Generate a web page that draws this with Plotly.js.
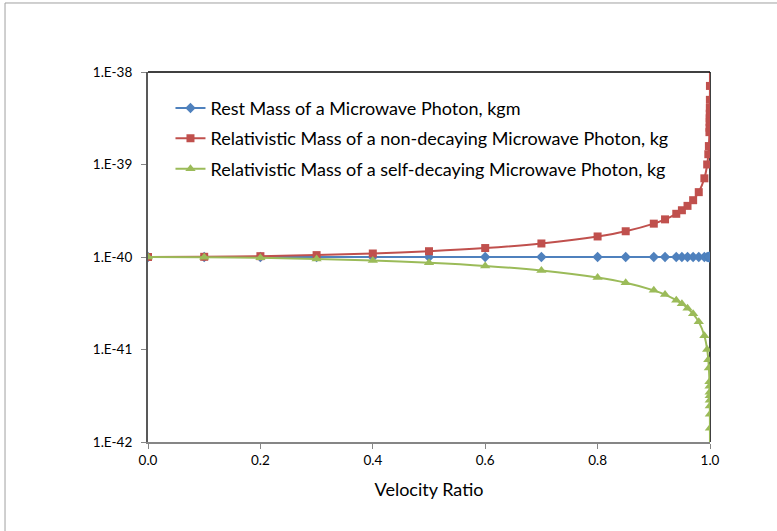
<!DOCTYPE html>
<html>
<head>
<meta charset="utf-8">
<script src="https://cdn.plot.ly/plotly-3.0.1.min.js"></script>
<style>html,body{margin:0;padding:0;background:#fff;}#chart{width:777px;height:531px;}</style>
</head>
<body>
<div id="chart"></div>
<script>
const velocityRatio = [0, 0.1, 0.2, 0.3, 0.4, 0.5, 0.6, 0.7, 0.8, 0.85, 0.9, 0.92, 0.94, 0.95, 0.96, 0.97, 0.98, 0.99, 0.995, 0.997, 0.998, 0.999, 0.9992, 0.9994, 0.9995, 0.9996, 0.9997, 0.9998, 0.9999, 0.99999];
const restMass = [1e-40, 1e-40, 1e-40, 1e-40, 1e-40, 1e-40, 1e-40, 1e-40, 1e-40, 1e-40, 1e-40, 1e-40, 1e-40, 1e-40, 1e-40, 1e-40, 1e-40, 1e-40, 1e-40, 1e-40, 1e-40, 1e-40, 1e-40, 1e-40, 1e-40, 1e-40, 1e-40, 1e-40, 1e-40, 1e-40];
const nonDecayingMass = [1.00e-40, 1.005e-40, 1.021e-40, 1.048e-40, 1.091e-40, 1.155e-40, 1.25e-40, 1.40e-40, 1.667e-40, 1.898e-40, 2.294e-40, 2.552e-40, 2.931e-40, 3.203e-40, 3.571e-40, 4.113e-40, 5.025e-40, 7.089e-40, 1.001e-39, 1.292e-39, 1.582e-39, 2.237e-39, 2.50e-39, 2.89e-39, 3.16e-39, 3.54e-39, 4.08e-39, 5.00e-39, 7.07e-39, 2.24e-38];
const selfDecayingMass = [1.00e-40, 9.95e-41, 9.80e-41, 9.54e-41, 9.17e-41, 8.66e-41, 8.00e-41, 7.14e-41, 6.00e-41, 5.27e-41, 4.36e-41, 3.92e-41, 3.41e-41, 3.12e-41, 2.80e-41, 2.43e-41, 1.99e-41, 1.41e-41, 9.99e-42, 7.74e-42, 6.32e-42, 4.47e-42, 4.00e-42, 3.46e-42, 3.16e-42, 2.83e-42, 2.45e-42, 2.00e-42, 1.41e-42, 4.47e-43];
const seriesNames = ["Rest Mass of a Microwave Photon, kgm", "Relativistic Mass of a non-decaying Microwave Photon, kg", "Relativistic Mass of a self-decaying Microwave Photon, kg"];
const yTickVals = [1e-42, 1e-41, 1e-40, 1e-39, 1e-38];
const yTickText = ["1.E-42", "1.E-41", "1.E-40", "1.E-39", "1.E-38"];
const xTitle = "Velocity Ratio";

const font = "Lato, 'Open Sans', sans-serif";
const traces = [
  {x: velocityRatio, y: restMass, name: seriesNames[0], mode: "lines+markers", legendgroup: "a",
   line: {color: "#4F81BD", width: 2, shape: "spline"}, marker: {symbol: "diamond", size: 8, color: "#4F81BD"}},
  {x: velocityRatio, y: nonDecayingMass, name: seriesNames[1], mode: "lines+markers", legendgroup: "b",
   line: {color: "#C0504D", width: 2, shape: "spline"}, marker: {symbol: "square", size: 8, color: "#C0504D"}},
  {x: velocityRatio, y: selfDecayingMass, name: seriesNames[2], mode: "lines+markers", legendgroup: "c",
   line: {color: "#9BBB59", width: 2, shape: "spline"}, marker: {symbol: "triangle-up", size: 9, color: "#9BBB59"}}
];
const layout = {
  width: 777, height: 531,
  margin: {l: 148, r: 67, t: 72, b: 89},
  paper_bgcolor: "#fff", plot_bgcolor: "#fff",
  font: {family: font, color: "#000"},
  showlegend: true,
  legend: {x: 0.04, y: 0.952, xanchor: "left", yanchor: "top", bgcolor: "rgba(0,0,0,0)",
           font: {size: 18, family: font, color: "#000"}, tracegroupgap: 4, itemwidth: 30},
  xaxis: {range: [0, 1], dtick: 0.2, tick0: 0, tickformat: ".1f", showgrid: false, zeroline: false,
          showline: true, linecolor: "#868686", linewidth: 2, ticks: "outside", ticklen: 5, tickcolor: "#868686",
          tickfont: {size: 13.5, family: font}, title: {text: xTitle, font: {size: 18, family: font}, standoff: 16}},
  yaxis: {type: "log", range: [-42, -38], tickvals: yTickVals, ticktext: yTickText, showgrid: false, zeroline: false,
          showline: true, linecolor: "#595959", linewidth: 2, ticks: "outside", ticklen: 5, tickcolor: "#868686",
          ticklabelstandoff: 6, tickfont: {size: 13.5, family: font}},
  shapes: [
    {type: "line", xref: "paper", yref: "paper", x0: 0, x1: 1, y0: 1, y1: 1, line: {color: "#000", width: 1.5}},
    {type: "line", xref: "paper", yref: "paper", x0: 1, x1: 1, y0: 0, y1: 1, line: {color: "#000", width: 1.5}, layer: "below"},
    {type: "line", xref: "paper", yref: "paper", x0: -0.2544, x1: 1.2, y0: 1.1865, y1: 1.1865, line: {color: "#A0A0A0", width: 1}},
    {type: "line", xref: "paper", yref: "paper", x0: -0.2544, x1: -0.2544, y0: -0.3, y1: 1.1865, line: {color: "#A0A0A0", width: 1}}
  ]
};
Plotly.newPlot("chart", traces, layout, {displayModeBar: false, staticPlot: true});
</script>
</body>
</html>
